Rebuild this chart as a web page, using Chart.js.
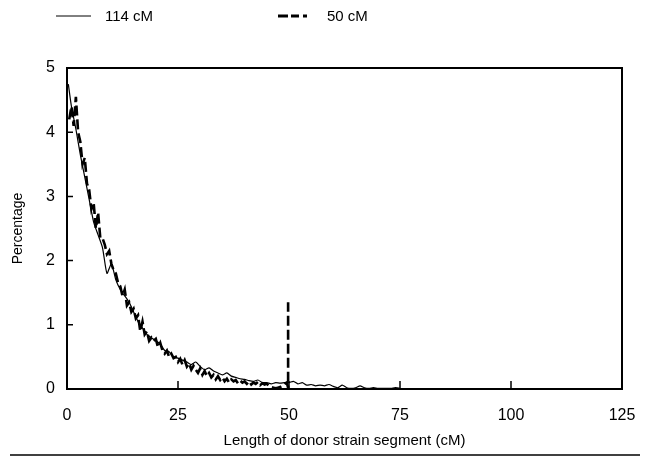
<!DOCTYPE html>
<html>
<head>
<meta charset="utf-8">
<script src="https://cdn.jsdelivr.net/npm/chart.js@4.4.1/dist/chart.umd.min.js"></script>
<style>
    html, body { margin: 0; padding: 0; background: #fff; }
    #wrap { position: relative; width: 647px; height: 467px; }
</style>
</head>
<body>
<div id="wrap"><canvas id="grafico" width="647" height="467"></canvas></div>
<script>
// 114 cM series, 1 cM steps
const largo114 = [0.3, 1, 2, 3, 4, 5, 6, 7, 8, 9, 10, 11, 12, 13, 14, 15, 16, 17, 18, 19, 20,
    21, 22, 23, 24, 25, 26, 27, 28, 29, 30, 31, 32, 33, 34, 35, 36, 37, 38, 39, 40,
    41, 42, 43, 44, 45, 46, 47, 48, 49, 50, 51, 52, 53, 54, 55, 56, 57, 58, 59, 60,
    61, 62, 63, 64, 65, 66, 67, 68, 69, 70, 71, 72, 73, 74, 75];
const porcentaje114 = [4.75, 4.4, 4.05, 3.65, 3.3, 2.95, 2.6, 2.4, 2.2, 1.8, 1.95, 1.7, 1.55, 1.45, 1.35, 1.2, 1.05, 0.95, 0.85, 0.8, 0.75,
    0.7, 0.6, 0.58, 0.5, 0.48, 0.45, 0.42, 0.38, 0.42, 0.35, 0.3, 0.33, 0.28, 0.25, 0.22, 0.25, 0.2, 0.18, 0.16, 0.15,
    0.13, 0.12, 0.14, 0.1, 0.1, 0.08, 0.1, 0.09, 0.1, 0.1, 0.12, 0.08, 0.1, 0.06, 0.07, 0.05, 0.06, 0.05, 0.07, 0.04,
    0.02, 0.06, 0.02, 0.01, 0.02, 0.05, 0.02, 0.01, 0.02, 0.01, 0.01, 0.01, 0.01, 0.02, 0.01];

// 50 cM series, 0.5 cM steps, ends with the spike at 50
const largo50 = [0.5, 1, 1.5, 2, 2.5, 3, 3.5, 4, 4.5, 5, 5.5, 6, 6.5, 7, 7.5, 8, 8.5, 9, 9.5, 10,
    10.5, 11, 11.5, 12, 12.5, 13, 13.5, 14, 14.5, 15, 15.5, 16, 16.5, 17, 17.5, 18, 18.5, 19, 19.5, 20,
    20.5, 21, 21.5, 22, 22.5, 23, 23.5, 24, 24.5, 25, 25.5, 26, 26.5, 27, 27.5, 28, 28.5, 29, 29.5, 30,
    30.5, 31, 31.5, 32, 32.5, 33, 33.5, 34, 34.5, 35, 35.5, 36, 36.5, 37, 37.5, 38, 38.5, 39, 39.5, 40,
    40.5, 41, 41.5, 42, 42.5, 43, 43.5, 44, 44.5, 45, 45.5, 46, 46.5, 47, 47.5, 48, 48.5, 49, 49.5, 49.8, 49.8];
const porcentaje50 = [4.2, 4.4, 4.1, 4.55, 4.0, 3.85, 3.5, 3.6, 3.2, 3.1, 2.8, 2.9, 2.5, 2.75, 2.35, 2.35, 2.25, 2.1, 2.15, 1.95,
    1.85, 1.8, 1.65, 1.6, 1.45, 1.55, 1.3, 1.35, 1.2, 1.25, 1.1, 1.15, 0.9, 1.05, 0.85, 0.9, 0.75, 0.8, 0.75, 0.78,
    0.65, 0.72, 0.6, 0.55, 0.6, 0.5, 0.55, 0.48, 0.5, 0.42, 0.47, 0.38, 0.45, 0.35, 0.4, 0.3, 0.36, 0.3, 0.25, 0.32,
    0.22, 0.28, 0.2, 0.25, 0.18, 0.22, 0.15, 0.2, 0.14, 0.18, 0.12, 0.16, 0.1, 0.15, 0.12, 0.14, 0.09, 0.13, 0.1, 0.12,
    0.08, 0.12, 0.07, 0.1, 0.08, 0.11, 0.06, 0.09, 0.07, 0.08, 0.05, 0.03, 0.02, 0.01, 0.02, 0.03, 0.05, 0.08, 0.1, 0.02, 1.35];

const marcasX = [0, 25, 50, 75, 100, 125];
const marcasY = [0, 1, 2, 3, 4, 5];
const nombresSeries = ["114 cM", "50 cM"];

const fuente = "'Liberation Sans', Arial, sans-serif";

const puntos = (xs, ys) => xs.map((x, i) => ({ x: x, y: ys[i] }));

// box, inward ticks, legend and bottom rule
const adornos = {
    id: "adornos",
    afterDatasetsDraw(chart) {
        const ctx = chart.ctx;
        const area = chart.chartArea;
        const ex = chart.scales.x;
        const ey = chart.scales.y;
        ctx.save();
        ctx.strokeStyle = "#000";
        ctx.lineWidth = 2;
        ctx.strokeRect(area.left, area.top, area.right - area.left, area.bottom - area.top);

        ctx.lineWidth = 1.5;
        ctx.beginPath();
        marcasX.forEach((v) => {
            const px = ex.getPixelForValue(v);
            ctx.moveTo(px, area.bottom);
            ctx.lineTo(px, area.bottom - 8);
        });
        marcasY.forEach((v) => {
            const py = ey.getPixelForValue(v);
            ctx.moveTo(area.left, py);
            ctx.lineTo(area.left + 6, py);
        });
        ctx.stroke();

        // legend
        ctx.lineWidth = 1;
        ctx.beginPath();
        ctx.moveTo(56, 16);
        ctx.lineTo(91, 16);
        ctx.stroke();
        ctx.lineWidth = 3;
        ctx.setLineDash([10, 3, 8, 4, 4]);
        ctx.beginPath();
        ctx.moveTo(278, 16);
        ctx.lineTo(314, 16);
        ctx.stroke();
        ctx.setLineDash([]);
        ctx.fillStyle = "#000";
        ctx.font = "15px " + fuente;
        ctx.textBaseline = "middle";
        ctx.fillText(nombresSeries[0], 105, 17);
        ctx.fillText(nombresSeries[1], 327, 17);

        // rule under the axis title
        ctx.lineWidth = 1.5;
        ctx.beginPath();
        ctx.moveTo(10, 455);
        ctx.lineTo(640, 455);
        ctx.stroke();
        ctx.restore();
    },
};

const configGrafico = {
    type: "scatter",
    data: {
        datasets: [
            {
                label: nombresSeries[0],
                data: puntos(largo114, porcentaje114),
                showLine: true,
                borderColor: "#000",
                borderWidth: 1.2,
                pointRadius: 0,
                tension: 0.2,
            },
            {
                label: nombresSeries[1],
                data: puntos(largo50, porcentaje50),
                showLine: true,
                borderColor: "#000",
                borderWidth: 2.6,
                borderDash: [10, 4],
                pointRadius: 0,
                tension: 0,
            },
        ],
    },
    options: {
        responsive: false,
        animation: false,
        layout: {
            padding: { top: 68, right: 25, bottom: 0, left: 0 },
        },
        plugins: {
            legend: { display: false },
            tooltip: { enabled: false },
        },
        scales: {
            x: {
                type: "linear",
                min: 0,
                max: 125,
                afterFit: (escala) => { escala.height = 78; },
                afterBuildTicks: (escala) => { escala.ticks = marcasX.map((v) => ({ value: v })); },
                grid: { display: false },
                border: { display: false },
                ticks: {
                    color: "#000",
                    padding: 9,
                    maxRotation: 0,
                    font: { size: 16, family: fuente },
                },
                title: {
                    display: true,
                    text: "Length of donor strain segment (cM)",
                    color: "#000",
                    font: { size: 15, family: fuente },
                    padding: { top: 0, bottom: 17 },
                },
            },
            y: {
                type: "linear",
                min: 0,
                max: 5,
                afterFit: (escala) => { escala.width = 67; },
                afterBuildTicks: (escala) => { escala.ticks = marcasY.map((v) => ({ value: v })); },
                grid: { display: false },
                border: { display: false },
                ticks: {
                    color: "#000",
                    padding: 4,
                    font: { size: 16, family: fuente },
                },
                title: {
                    display: true,
                    text: "Percentage",
                    color: "#000",
                    font: { size: 14, family: fuente },
                    padding: { top: 10, bottom: 0 },
                },
            },
        },
    },
    plugins: [adornos],
};

const grafico = new Chart(document.getElementById("grafico"), configGrafico);
</script>
</body>
</html>
